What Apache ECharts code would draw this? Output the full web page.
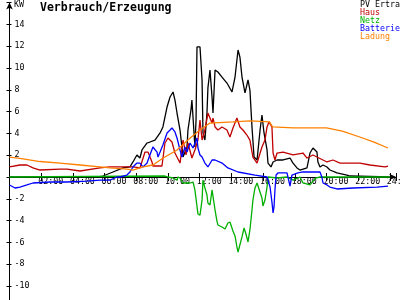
<!DOCTYPE html>
<html><head><meta charset="utf-8">
<script src="https://cdn.jsdelivr.net/npm/echarts@6/dist/echarts.min.js"></script>
<style>html,body{margin:0;padding:0;background:#fff}#c{width:400px;height:300px}</style>
</head><body><div id="c"></div>
<script>
// ---- data (hours, kW) ----
const timeLabels = ['02:00','04:00','06:00','08:00','10:00','12:00','14:00','16:00','18:00','20:00','22:00','24:00'];
const yTickValues = [14,12,10,8,6,4,2,-2,-4,-6,-8,-10];
const seriesNames = ['PV Ertrag','Haus','Netz','Batterie','Ladung'];

const pvHours = [0,5.6,5.90,6.53,7.16,7.60,7.79,8.04,8.23,8.36,8.68,8.86,9.18,9.50,9.68,9.94,10.13,10.32,10.44,10.57,10.76,10.88,10.95,11.20,11.26,11.45,11.51,11.70,11.77,11.83,12.02,12.15,12.21,12.33,12.46,12.52,12.65,12.78,12.84,12.97,13.15,13.41,13.72,14.04,14.23,14.42,14.54,14.67,14.86,15.05,15.17,15.30,15.43,15.62,15.81,15.93,16.06,16.25,16.31,16.50,16.63,16.88,17.26,17.70,17.82,17.89,18.14,18.33,18.77,18.96,19.15,19.40,19.46,19.59,19.78,20.03,20.22,20.66,21.29,21.48,21.6,24];
const pvKw    = [0,0,0.09,0.46,0.83,0.92,1.38,2.02,1.74,2.48,3.12,3.21,3.39,4.04,4.59,6.42,7.34,7.80,7.06,5.87,4.31,2.75,1.83,2.75,4.31,6.15,7.06,2.75,5.23,11.93,11.93,8.90,4.04,3.39,5.87,8.17,9.82,7.34,5.87,9.82,9.63,9.17,8.62,7.80,9.17,11.65,11.0,9.17,7.71,8.90,7.98,4.59,1.83,1.56,4.31,5.69,4.04,2.48,1.28,0.92,1.38,1.56,1.56,1.74,1.74,1.28,0.83,0.64,0.83,2.20,2.66,2.29,1.38,0.92,1.10,0.92,0.64,0.37,0.18,0.09,0,0];

const hausHours = [0,0.66,1.10,1.48,1.92,3.19,3.63,4.45,5.71,6.34,7.79,8.23,8.55,8.74,8.99,9.05,9.62,9.81,10.0,10.25,10.44,10.76,10.95,11.14,11.26,11.51,11.70,11.89,12.02,12.15,12.33,12.52,12.78,12.84,12.97,13.15,13.41,13.72,13.91,14.10,14.35,14.54,14.73,14.98,15.17,15.36,15.62,15.68,15.93,16.12,16.25,16.37,16.56,16.63,16.75,16.88,16.94,17.26,17.89,18.52,18.77,19.15,20.03,20.41,20.86,22.11,22.74,23.69,23.88];
const hausKw    = [0.92,1.10,1.10,0.83,0.64,0.73,0.73,0.55,0.83,0.92,0.92,0.83,2.29,2.29,1.38,1.01,1.01,3.12,3.58,3.21,2.20,1.28,3.39,2.02,3.12,1.74,2.48,3.39,5.23,3.39,4.31,5.87,4.95,5.41,4.59,4.31,4.59,4.31,3.67,4.50,5.41,4.59,4.31,3.85,3.39,1.83,1.28,1.10,2.75,3.39,4.59,5.05,4.59,2.20,1.56,2.20,2.02,2.29,2.02,2.20,1.74,2.02,1.38,1.56,1.28,1.28,1.10,0.92,1.0];

const netzHours = [0,9.81,10.0,10.32,10.57,10.63,10.76,10.95,11.20,11.39,11.58,11.70,11.89,12.02,12.15,12.21,12.33,12.46,12.52,12.65,12.78,12.84,12.97,13.09,13.15,13.41,13.60,13.78,13.91,14.10,14.23,14.35,14.42,14.54,14.67,14.80,14.92,15.05,15.17,15.30,15.36,15.49,15.62,15.74,15.93,15.99,16.12,16.25,16.31,16.88,17.51,17.89,18.33,18.52,18.96,19.3,19.6,24];
const netzKw    = [0,0.09,0,-0.09,-0.28,0,-0.09,-0.55,-0.55,-0.55,-0.46,-1.19,-3.39,-3.5,-2.1,-0.28,-1.0,-1.65,-2.39,-2.57,-1.19,-1.10,-3.03,-4.04,-4.40,-4.59,-4.77,-4.22,-4.13,-4.95,-5.41,-6.42,-6.88,-6.88,-5.50,-4.68,-5.23,-5.96,-4.86,-3.03,-2.11,-1.0,-0.55,-0.73,-1.93,-2.66,-2.11,-0.92,0,-0.09,0,-0.28,0,-0.55,-0.73,-0.1,0,0];

const battHours = [0,0.35,0.66,1.10,1.48,2.56,3.63,4.89,5.71,6.34,6.78,6.97,7.41,7.60,7.79,8.04,8.23,8.42,8.68,8.86,9.05,9.31,9.37,9.50,9.68,9.94,10.13,10.25,10.44,10.57,10.76,10.88,11.07,11.20,11.39,11.58,11.83,11.89,12.02,12.15,12.33,12.52,12.78,12.97,13.41,13.78,14.42,15.49,16.25,16.44,16.56,16.63,16.69,16.75,16.82,16.94,17.51,17.57,17.70,17.82,18.20,18.52,19.08,19.59,19.71,19.78,20.03,20.22,20.66,21.67,23.19,23.88];
const battKw    = [-0.73,-1.01,-0.92,-0.73,-0.55,-0.46,-0.46,-0.37,-0.28,-0.28,0,0,0.18,0.46,0.92,1.28,1.28,0.92,1.28,2.02,2.75,2.29,1.83,2.29,2.94,4.04,4.31,4.50,4.13,3.58,2.48,1.83,2.75,2.29,3.12,2.66,3.58,2.66,2.02,1.83,1.28,0.92,1.56,1.56,1.28,0.83,0.46,0.18,0,-0.92,-2.3,-3.30,-2.75,-1.19,0.18,0.37,0.37,0,-0.83,0.18,0.37,0.46,0.46,0.46,0,-0.55,-0.73,-0.92,-1.10,-1.01,-0.92,-0.83];

const ladHours = [0,0.66,1.92,3.19,4.45,5.71,6.34,7.41,7.79,8.42,9.05,9.70,10.57,11.4,12.02,12.65,14.1,15.2,16.4,16.6,17.9,20.0,21.0,22.1,23.0,23.88];
const ladKw    = [1.83,1.70,1.42,1.28,1.10,0.92,0.83,0.73,0.64,0.92,1.10,1.74,2.48,3.58,4.31,4.95,5.05,5.14,5.05,4.6,4.5,4.5,4.2,3.67,3.2,2.66];

const colors = ['#000000','#c00000','#00b000','#0000ff','#ff8000'];

function pairs(h, v){ return h.map((x,i)=>[x, v[i]]); }
const seriesData = [pairs(pvHours,pvKw), pairs(hausHours,hausKw), pairs(netzHours,netzKw), pairs(battHours,battKw), pairs(ladHours,ladKw)];

const mono = 'DejaVu Sans Mono';
function xFmt(v){
  const k = Math.round(v/2);
  if (v <= 0 || Math.abs(v - k*2) > 1e-6 || k-1 >= timeLabels.length) return '';
  return timeLabels[k-1];
}
function yFmt(v){ return yTickValues.indexOf(v) >= 0 ? String(v) : ''; }

// layout: 0 kW sits 130.8 px above the grid bottom
const Y_MIN = -12, Y_MAX = 16, GRID_TOP = 2.6, GRID_H = 305.2;
const zeroOffset = -GRID_H * (0 - Y_MIN) / (Y_MAX - Y_MIN);

const axisLineStyle = {color:'#000', width:1};
const chart = echarts.init(document.getElementById('c'), null, {renderer:'canvas'});
chart.setOption({
  animation:false,
  backgroundColor:'#fff',
  title:{text:'Verbrauch/Erzeugung', left:40, top:2, padding:0,
    textStyle:{fontFamily:mono, fontWeight:'bold', fontSize:11.5, color:'#000'}},
  legend:{orient:'vertical', left:354, top:1, padding:0, itemGap:0, itemWidth:1, itemHeight:8,
    icon:'none', selectedMode:false,
    textStyle:{fontFamily:mono, fontSize:8.3, lineHeight:8, width:42, overflow:'truncate', ellipsis:''},
    data:seriesNames.map((n,i)=>({name:n, textStyle:{color:colors[i]}}))},
  graphic:[{type:'text', left:14, top:1, style:{text:'KW', font:'8.3px "DejaVu Sans Mono"', fill:'#000'}}],
  grid:{left:9.5, top:GRID_TOP, width:386.7, height:GRID_H, containLabel:false, outerBoundsMode:'none'},
  xAxis:[{type:'value', min:0, max:24.4, interval:2, position:'bottom', offset:zeroOffset,
      axisLine:{onZero:false, symbol:['none','arrow'], symbolSize:[5,7], lineStyle:axisLineStyle},
      axisTick:{length:4, lineStyle:axisLineStyle},
      axisLabel:{formatter:xFmt, fontFamily:mono, fontSize:8.3, color:'#000', align:'left', margin:1, padding:[0,0,0,-3], showMaxLabel:true},
      splitLine:{show:false}},
    {type:'value', min:0, max:24.4, interval:2, position:'bottom', offset:zeroOffset,
      axisLine:{show:false, onZero:false},
      axisTick:{inside:true, length:4, lineStyle:axisLineStyle},
      axisLabel:{show:false}, splitLine:{show:false}}],
  yAxis:[{type:'value', min:Y_MIN, max:Y_MAX, interval:2, position:'left',
      axisLine:{onZero:false, symbol:['none','arrow'], symbolSize:[5,7], lineStyle:axisLineStyle},
      axisTick:{length:3, lineStyle:axisLineStyle},
      axisLabel:{formatter:yFmt, inside:true, margin:5, fontFamily:mono, fontSize:8.3, color:'#000'},
      splitLine:{show:false}},
    {type:'value', min:Y_MIN, max:Y_MAX, interval:2, position:'left',
      axisLine:{show:false, onZero:false},
      axisTick:{inside:true, length:2, lineStyle:axisLineStyle},
      axisLabel:{show:false}, splitLine:{show:false}}],
  series:seriesNames.map((n,i)=>({name:n, type:'line', data:seriesData[i], showSymbol:false,
    xAxisIndex:0, yAxisIndex:0, color:colors[i], lineStyle:{color:colors[i], width:1.3}, silent:true}))
});
</script></body></html>
